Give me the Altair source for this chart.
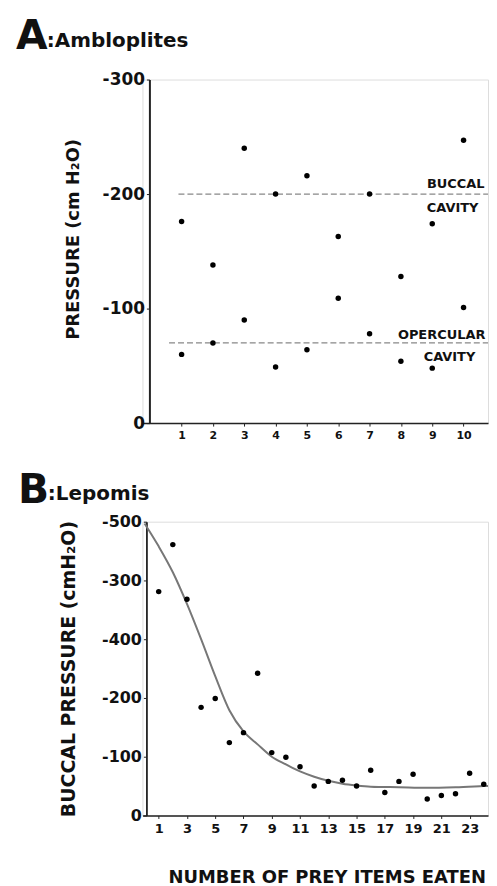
import altair as alt
import pandas as pd

FONT = "DejaVu Sans"

# ---------------- Panel A: Ambloplites ----------------
trials = [1, 2, 3, 4, 5, 6, 7, 8, 9, 10]
buccal_a = [-176, -138, -240, -200, -216, -163, -200, -128, -174, -247]
opercular_a = [-60, -70, -90, -49, -64, -109, -78, -54, -48, -101]

ref_levels = [-200, -70]
ref_start = [0.9, 0.6]
ref_end = [11, 11]

note_text = ["BUCCAL", "CAVITY", "OPERCULAR", "CAVITY"]
note_x = [9.75, 9.65, 9.3, 9.55]
note_y = [-209, -188, -77, -58]

# ---------------- Panel B: Lepomis ----------------
prey = list(range(1, 26))
buccal_b = [-381, -461, -368, -184, -199, -124, -141, -242, -107, -99,
            -83, -50, -58, -60, -50, -77, -39, -58, -70, -28,
            -34, -37, -72, -53, -29]
prey_ticks = [1, 3, 5, 7, 9, 11, 13, 15, 17, 19, 21, 23]
fit_x = [0, 1, 2, 3, 4, 5, 6, 7, 8, 9, 10, 11, 12, 13, 14, 15, 16, 18, 20, 22, 24, 25]
fit_y = [-497, -458, -414, -360, -300, -237, -179, -143, -121, -100, -87, -75,
         -66, -59, -54, -51, -49, -48, -47, -48, -50, -51]

dfA = pd.DataFrame({"x": trials + trials, "y": buccal_a + opercular_a})
dfRef = pd.DataFrame({"y": ref_levels, "x": ref_start, "x2": ref_end})
dfNote = pd.DataFrame({"x": note_x, "y": note_y, "t": note_text})
dfB = pd.DataFrame({"x": prey, "y": buccal_b})
dfFit = pd.DataFrame({"x": fit_x, "y": fit_y})

axis_common = dict(grid=False, domainColor="#222", tickColor="#222", labelColor="#111",
                   labelFont=FONT, titleFont=FONT, titleColor="#111")


def xA(field="x"):
    return alt.X(f"{field}:Q", scale=alt.Scale(domain=[-0.25, 10.78], nice=False, zero=False),
                 axis=alt.Axis(values=trials, title=None, labelFontSize=11, labelFontWeight="bold",
                               tickSize=3, labelPadding=3, domainWidth=1.5, **axis_common))


def yA(field="y"):
    return alt.Y(f"{field}:Q", scale=alt.Scale(domain=[-300, 0], reverse=True, nice=False, zero=False),
                 axis=alt.Axis(values=[0, -100, -200, -300], title="PRESSURE (cm H₂O)",
                               labelExpr="datum.value == 0 ? '0' : '-' + abs(datum.value)",
                               labelFontSize=17, labelFontWeight="bold", tickSize=3, labelPadding=2,
                               domainWidth=2, titleFontSize=18, titleFontWeight="bold",
                               titlePadding=20, titleY=160, offset=-7, **axis_common))


ptsA = alt.Chart(dfA).mark_circle(size=30, color="black", opacity=1).encode(x=xA(), y=yA())
rulesA = alt.Chart(dfRef).mark_rule(color="#888", strokeDash=[6, 3], strokeWidth=1.3, clip=True).encode(
    x=xA(), x2="x2:Q", y=yA())
notesA = alt.Chart(dfNote).mark_text(font=FONT, fontSize=13, fontWeight="bold", color="#111").encode(
    x=xA(), y=yA(), text="t:N")
titleA1 = alt.Chart(pd.DataFrame({"t": ["A"]})).mark_text(
    font=FONT, fontSize=41, fontWeight="bold", align="left", baseline="alphabetic", color="#111"
).encode(x=alt.value(-127), y=alt.value(-31), text="t:N")
titleA2 = alt.Chart(pd.DataFrame({"t": [":Ambloplites"]})).mark_text(
    font=FONT, fontSize=20, fontWeight="bold", align="left", baseline="alphabetic", color="#111"
).encode(x=alt.value(-96), y=alt.value(-33), text="t:N")

panelA = alt.layer(rulesA, ptsA, notesA, titleA1, titleA2).properties(width=347, height=345)


def xB(field="x"):
    return alt.X(f"{field}:Q", scale=alt.Scale(domain=[-0.15, 24.3], nice=False, zero=False),
                 axis=alt.Axis(values=prey_ticks, title="NUMBER OF PREY ITEMS EATEN",
                               labelFontSize=13, labelFontWeight="bold", tickSize=3, labelPadding=4,
                               domainWidth=1.5, titleFontSize=18, titleFontWeight="bold",
                               titlePadding=33, titleX=185, **axis_common))


def yB(field="y"):
    return alt.Y(f"{field}:Q", scale=alt.Scale(domain=[-500, 0], reverse=True, nice=False, zero=False),
                 axis=alt.Axis(values=[0, -100, -200, -300, -400, -500], title="BUCCAL PRESSURE (cmH₂O)",
                               labelExpr="datum.value == 0 ? '0' : datum.value == -300 ? '-400' : "
                                         "datum.value == -400 ? '-300' : '-' + abs(datum.value)",
                               labelFontSize=16, labelFontWeight="bold", tickSize=3, labelPadding=2,
                               domainWidth=1.8, titleFontSize=19, titleFontWeight="bold",
                               titlePadding=23, offset=-4, **axis_common))


fitB = alt.Chart(dfFit).mark_line(color="#777", strokeWidth=2, interpolate="monotone", clip=True).encode(
    x=xB(), y=yB())
ptsB = alt.Chart(dfB).mark_circle(size=30, color="black", opacity=1, clip=True).encode(x=xB(), y=yB())
titleB1 = alt.Chart(pd.DataFrame({"t": ["B"]})).mark_text(
    font=FONT, fontSize=41, fontWeight="bold", align="left", baseline="alphabetic", color="#111"
).encode(x=alt.value(-125), y=alt.value(-19), text="t:N")
titleB2 = alt.Chart(pd.DataFrame({"t": [":Lepomis"]})).mark_text(
    font=FONT, fontSize=20, fontWeight="bold", align="left", baseline="alphabetic", color="#111"
).encode(x=alt.value(-95), y=alt.value(-22), text="t:N")

panelB = alt.layer(fitB, ptsB, titleB1, titleB2).properties(width=347, height=295)

chart = alt.vconcat(panelA, panelB, spacing=28).configure_view(stroke=None).configure(
    background="white", padding={"left": 7, "top": 5, "right": 0, "bottom": 0})

chart.save("out.html", embed_options={"renderer": "svg", "actions": False})
